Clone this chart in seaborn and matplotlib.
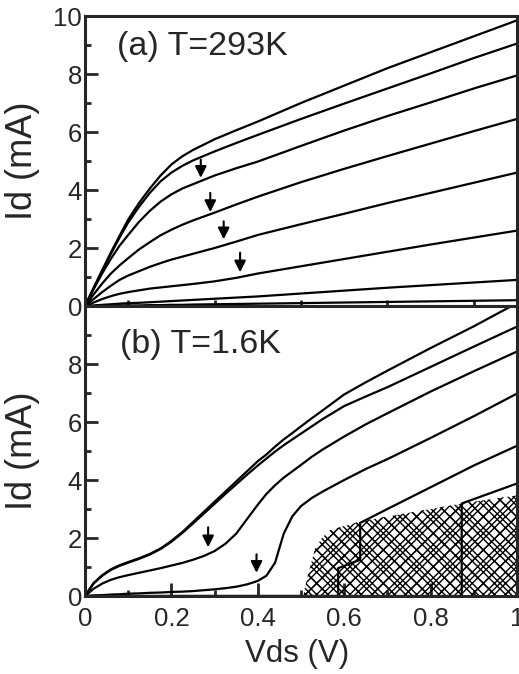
import numpy as np
import pandas as pd
import matplotlib
matplotlib.use('Agg')
import matplotlib.pyplot as plt
import seaborn as sns

sns.set_style('ticks')
plt.rcParams['font.family'] = ['Liberation Sans', 'DejaVu Sans']
plt.rcParams['hatch.linewidth'] = 1.0

# panel (a), T=293K
vds_a = [0, 0.02, 0.04, 0.06, 0.08, 0.1, 0.125, 0.15, 0.175, 0.2, 0.225, 0.25, 0.3,
         0.35, 0.4, 0.5, 0.6, 0.7, 0.8, 0.9, 1.0]
id_a1 = [0, 0.62, 1.24, 1.85, 2.42, 2.98, 3.55, 4.05, 4.5, 4.88, 5.16, 5.38, 5.75,
         6.06, 6.36, 7.0, 7.6, 8.2, 8.75, 9.3, 9.85]
id_a2 = [0, 0.62, 1.22, 1.8, 2.36, 2.88, 3.42, 3.9, 4.3, 4.6, 4.83, 5.02, 5.33,
         5.62, 5.9, 6.45, 6.98, 7.5, 8.02, 8.55, 9.05]
id_a3 = [0, 0.58, 1.13, 1.63, 2.08, 2.45, 2.9, 3.28, 3.6, 3.85, 4.05, 4.2, 4.5,
         4.75, 4.98, 5.52, 6.05, 6.55, 7.02, 7.5, 7.95]
id_a4 = [0, 0.4, 0.78, 1.12, 1.4, 1.65, 1.95, 2.2, 2.44, 2.63, 2.8, 2.95, 3.22,
         3.5, 3.77, 4.27, 4.73, 5.17, 5.6, 6.03, 6.45]
id_a5 = [0, 0.24, 0.48, 0.7, 0.9, 1.05, 1.2, 1.35, 1.48, 1.6, 1.7, 1.8, 2.0,
         2.22, 2.45, 2.82, 3.18, 3.55, 3.9, 4.25, 4.6]
id_a6 = [0, 0.12, 0.24, 0.34, 0.42, 0.48, 0.54, 0.6, 0.64, 0.68, 0.72, 0.76, 0.85,
         0.97, 1.12, 1.37, 1.62, 1.87, 2.12, 2.36, 2.6]
id_a7 = [0, 0.02, 0.04, 0.06, 0.08, 0.1, 0.11, 0.13, 0.15, 0.17, 0.19, 0.21, 0.25,
         0.29, 0.33, 0.43, 0.53, 0.63, 0.72, 0.81, 0.9]
id_a8 = [0, 0.0, 0.01, 0.01, 0.02, 0.02, 0.02, 0.03, 0.03, 0.04, 0.04, 0.05, 0.06,
         0.07, 0.08, 0.1, 0.12, 0.14, 0.16, 0.18, 0.2]
arrow_a_x = [0.268, 0.290, 0.321, 0.359]
arrow_a_tail = [5.05, 3.9, 2.92, 1.84]
arrow_a_tip = [4.42, 3.24, 2.3, 1.16]

# panel (b), T=1.6K
vds_b = [0, 0.02, 0.04, 0.06, 0.08, 0.1, 0.125, 0.15, 0.175, 0.2, 0.225, 0.25, 0.275,
         0.3, 0.325, 0.35, 0.375, 0.4, 0.42, 0.44, 0.46, 0.48, 0.5, 0.525, 0.55,
         0.6, 0.65, 0.7, 0.8, 0.9, 1.0]
id_b1 = [0, 0.45, 0.72, 0.92, 1.06, 1.17, 1.3, 1.45, 1.64, 1.9, 2.2, 2.55, 2.9,
         3.25, 3.6, 3.95, 4.3, 4.65, 4.88, 5.15, 5.4, 5.62, 5.85, 6.13, 6.4,
         6.95, 7.37, 7.77, 8.55, 9.3, 10.1]
id_b2 = [0, 0.43, 0.7, 0.9, 1.04, 1.15, 1.28, 1.43, 1.62, 1.87, 2.17, 2.5, 2.84,
         3.18, 3.52, 3.85, 4.18, 4.5, 4.74, 4.98, 5.2, 5.4, 5.6, 5.85, 6.1,
         6.55, 6.88, 7.2, 7.9, 8.6, 9.29]
id_b3 = [0, 0.25, 0.43, 0.56, 0.65, 0.72, 0.8, 0.88, 0.96, 1.05, 1.14, 1.25, 1.38,
         1.55, 1.8, 2.15, 2.65, 3.15, 3.52, 3.82, 4.08, 4.3, 4.52, 4.8, 5.05,
         5.5, 5.92, 6.3, 7.05, 7.75, 8.43]
id_b4 = [0, 0.02, 0.03, 0.05, 0.06, 0.08, 0.09, 0.11, 0.12, 0.14, 0.15, 0.17, 0.2,
         0.23, 0.27, 0.32, 0.4, 0.52, 0.7, 1.15, 2.15, 2.75, 3.1, 3.38, 3.6,
         4.0, 4.38, 4.72, 5.45, 6.2, 6.98]
vds_b5 = [0, 0.586, 0.586, 0.637, 0.637, 0.7, 0.8, 0.9, 1.0]
id_b5 = [0, 0, 0.96, 1.25, 2.52, 3.0, 3.75, 4.5, 5.18]
vds_b6 = [0, 0.872, 0.872, 1.0]
id_b6 = [0, 0, 3.19, 3.88]
vds_hatch = [0.505, 0.513, 0.522, 0.532, 0.548, 0.567, 0.606, 0.64, 0.872, 1.0]
id_hatch = [0, 0.55, 1.05, 1.6, 2.0, 2.27, 2.44, 2.58, 3.19, 3.47]
arrow_b_x = [0.285, 0.397]
arrow_b_tail = [2.37, 1.44]
arrow_b_tip = [1.68, 0.8]


def to_long(pairs):
    rows = []
    for k, (xs, ys) in enumerate(pairs):
        for x, y in zip(xs, ys):
            rows.append({'curve': k, 'Vds': x, 'Id': y})
    return pd.DataFrame(rows)


df_a = to_long([(vds_a, c) for c in [id_a1, id_a2, id_a3, id_a4, id_a5, id_a6, id_a7, id_a8]])
df_b = to_long([(vds_b, id_b1), (vds_b, id_b2), (vds_b, id_b3), (vds_b, id_b4),
                (vds_b5, id_b5), (vds_b6, id_b6)])

W, H = 519, 674
fig = plt.figure(figsize=(W / 100, H / 100), dpi=100)
ax1 = fig.add_axes([85 / W, 1 - 306 / H, 432 / W, 290 / H])
ax2 = fig.add_axes([85 / W, 1 - 596 / H, 432 / W, 290 / H])

# cross-hatched region, two densities overlaid for the irregular look
ax2.fill_between(vds_hatch, 0, id_hatch, facecolor='none', edgecolor='k',
                 hatch='xx', linewidth=0)
ax2.fill_between(vds_hatch, 0, id_hatch, facecolor='none', edgecolor='k',
                 hatch='xxx', linewidth=0)

for ax, df in [(ax1, df_a), (ax2, df_b)]:
    sns.lineplot(data=df, x='Vds', y='Id', units='curve', estimator=None, sort=False,
                 color='k', lw=1.6, ax=ax, legend=False)

for ax, xs, tails, tips in [(ax1, arrow_a_x, arrow_a_tail, arrow_a_tip),
                            (ax2, arrow_b_x, arrow_b_tail, arrow_b_tip)]:
    for x, t0, t1 in zip(xs, tails, tips):
        ax.annotate('', xy=(x, t1), xytext=(x, t0),
                    arrowprops=dict(arrowstyle='-|>', lw=1.5, color='k',
                                    mutation_scale=17, shrinkA=0, shrinkB=0))

for ax in [ax1, ax2]:
    ax.set_xlim(0, 1)
    ax.set_ylim(0, 10)
    for s in ax.spines.values():
        s.set_linewidth(2.2)
        s.set_visible(True)
    ax.set_yticks([0, 2, 4, 6, 8, 10])
    ax.set_yticks([1, 3, 5, 7, 9], minor=True)
    ax.tick_params(axis='y', which='major', direction='in', length=9, width=2,
                   labelsize=18.5, pad=2, right=False)
    ax.tick_params(axis='y', which='minor', direction='in', length=4.5, width=2, right=False)
    ax.set_ylabel('Id (mA)', fontsize=26)
    ax.yaxis.set_label_coords(-0.105, 0.5)

ax2.set_yticks([0, 2, 4, 6, 8])
ax2.set_yticklabels(['0', '2', '4', '6', '8'])
ax1.set_yticklabels(['0', '2', '4', '6', '8', '10'])

ax1.set_xticks([])
ax1.set_xticks([0.1, 0.3, 0.5, 0.7, 0.9], minor=True)
ax1.tick_params(axis='x', which='minor', direction='in', length=4, width=2, top=False)
ax1.set_xlabel('')

ax2.set_xticks([0, 0.2, 0.4, 0.6, 0.8, 1.0])
ax2.set_xticklabels(['0', '0.2', '0.4', '0.6', '0.8', '1'])
ax2.set_xticks([0.1, 0.3, 0.5, 0.7, 0.9], minor=True)
ax2.tick_params(axis='x', which='major', direction='in', length=9.5, width=2,
                labelsize=18.5, pad=8, top=False)
ax2.tick_params(axis='x', which='minor', direction='in', length=4, width=2, top=False)
ax2.set_xlabel('Vds (V)', fontsize=22.5)
ax2.xaxis.label.set_va('baseline')
ax2.xaxis.set_label_coords(0.492, -0.227)

ax1.text(0.074, 0.866, '(a) T=293K', transform=ax1.transAxes, fontsize=24.5, va='baseline')
ax2.text(0.081, 0.838, '(b) T=1.6K', transform=ax2.transAxes, fontsize=24.5, va='baseline')

fig.savefig('out.png', dpi=100)
